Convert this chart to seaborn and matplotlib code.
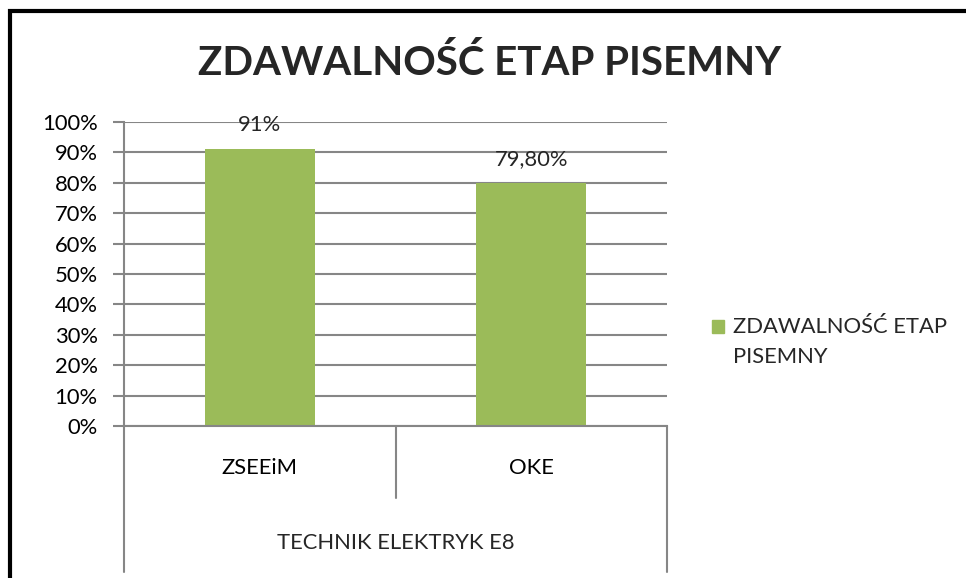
import numpy as np
import pandas as pd
import matplotlib.pyplot as plt
import matplotlib.patches as mpatches
from matplotlib.ticker import PercentFormatter
import seaborn as sns

### Dane
szkoly = ["ZSEEiM", "OKE"]
zdawalnosc = [0.91, 0.798]
etykiety = ["91%", "79,80%"]
grupa = "TECHNIK ELEKTRYK E8"
tytul = "ZDAWALNOŚĆ ETAP PISEMNY"
podzialka = np.linspace(0, 1, 11)

dane = pd.DataFrame({"szkola": szkoly, "zdawalnosc": zdawalnosc})

### Styl
sns.set_theme(style="white")
plt.rcParams["font.family"] = ["Lato", "DejaVu Sans"]
zielony = "#9BBB59"
szary = "#868686"
rozmiar = 15.8

fig = plt.figure(figsize=(9.66, 5.78), dpi=100)
ax = fig.add_axes([124 / 966, 1 - 426 / 578, 543 / 966, 304 / 578])

sns.barplot(data=dane, x="szkola", y="zdawalnosc", color=zielony, saturation=1,
            width=0.405, linewidth=0, edgecolor="none", ax=ax)
ax.bar_label(ax.containers[0], labels=etykiety, padding=10, fontsize=rozmiar)

ax.set_ylim(0, 1)
ax.set_yticks(podzialka)
ax.yaxis.set_major_formatter(PercentFormatter(1, decimals=0))
ax.yaxis.grid(True, color=szary, lw=1.5)
ax.set_axisbelow(True)
ax.set_xlabel("")
ax.set_ylabel("")
for s in ["top", "right"]:
    ax.spines[s].set_visible(False)
for s in ["left", "bottom"]:
    ax.spines[s].set_color(szary)
    ax.spines[s].set_linewidth(1.5)
ax.tick_params(axis="y", left=True, length=8, width=1.5, color=szary,
               labelsize=rozmiar, pad=11, labelcolor="black")
ax.tick_params(axis="x", length=0, labelsize=rozmiar, pad=23, labelcolor="black")

# linie podzialu kategorii
for xx, dol in [(-0.5, -0.48), (0.5, -0.237), (1.5, -0.48)]:
    ax.axvline(xx, ymin=dol, ymax=0, color=szary, lw=1.5, clip_on=False)
ax.text(0.5, -0.385, grupa, transform=ax.transAxes, ha="center", va="center",
        fontsize=rozmiar)

### Tytul
fig.text(490 / 966, 1 - 63 / 578, tytul, ha="center", va="center",
         fontsize=29, fontweight="bold")

### Legenda
uchwyt = mpatches.Patch(color=zielony, label="ZDAWALNOŚĆ ETAP\nPISEMNY")
leg = fig.legend(handles=[uchwyt], loc="upper left",
                 bbox_to_anchor=(712 / 966, 1 - 317 / 578), frameon=False,
                 fontsize=rozmiar, handlelength=0.55, handleheight=0.55,
                 handletextpad=0.42, borderpad=0, borderaxespad=0)
leg.get_texts()[0].set_linespacing(1.65)
h = leg.legend_handles[0]
h.set_y(h.get_y() + 11.5)

### Ramka
fig.add_artist(mpatches.Rectangle((10 / 966, -0.5), 2, 0.5 + 1 - 10.5 / 578,
                                  transform=fig.transFigure, fill=False,
                                  lw=3, ec="black"))

fig.savefig("out.png", dpi=100)
